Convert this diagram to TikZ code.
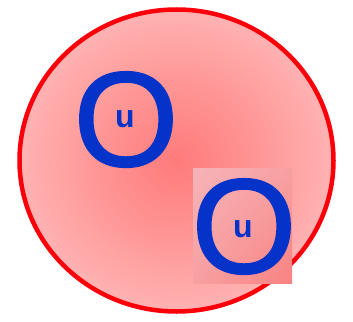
\documentclass[tikz,border=0pt]{standalone}
\usepackage{fontspec}
\setmainfont{Liberation Sans}
\newfontfamily\heavyO[FakeBold=1.2]{Liberation Sans}
\usetikzlibrary{shadings}
\definecolor{oblue}{RGB}{5,50,200}
\definecolor{ringred}{RGB}{250,0,10}
\definecolor{boxlight}{RGB}{246,180,184}
\definecolor{boxmid}{RGB}{247,160,162}
\definecolor{boxdark}{RGB}{250,130,130}
\pgfdeclareradialshading{ballshade}{\pgfpoint{0bp}{0bp}}{color(0bp)=(red!52!white); color(12bp)=(red!42!white); color(25bp)=(red!30!white); color(35bp)=(red!24!white); color(50bp)=(red!20!white)}
\tikzset{
  bigO/.style={text=oblue, font=\heavyO\fontsize{135}{135}\selectfont, inner sep=0pt, anchor=base},
  smallu/.style={text=oblue, font=\bfseries\fontsize{32}{32}\selectfont, inner sep=0pt, anchor=base},
}
\begin{document}
\begin{tikzpicture}[x=1pt,y=-1pt]
\useasboundingbox (0,0) rectangle (353,321);
\fill[white] (0,0) rectangle (353,321);
\path[shading=ballshade] (176.5,160.5) ellipse [x radius=157, y radius=151];
\draw[ringred, line width=4.5pt] (176.5,160.5) ellipse [x radius=157, y radius=151];
\node[bigO] (o1) at (126,166) {O};
\node[smallu] (u1) at (125,127) {u};
\shade[upper left=boxlight, upper right=boxmid, lower left=boxmid, lower right=boxdark] (193,168) rectangle (292,283);
\node[bigO] (o2) at (244,273) {O};
\node[smallu] (u2) at (243,237) {u};
\end{tikzpicture}
\end{document}
